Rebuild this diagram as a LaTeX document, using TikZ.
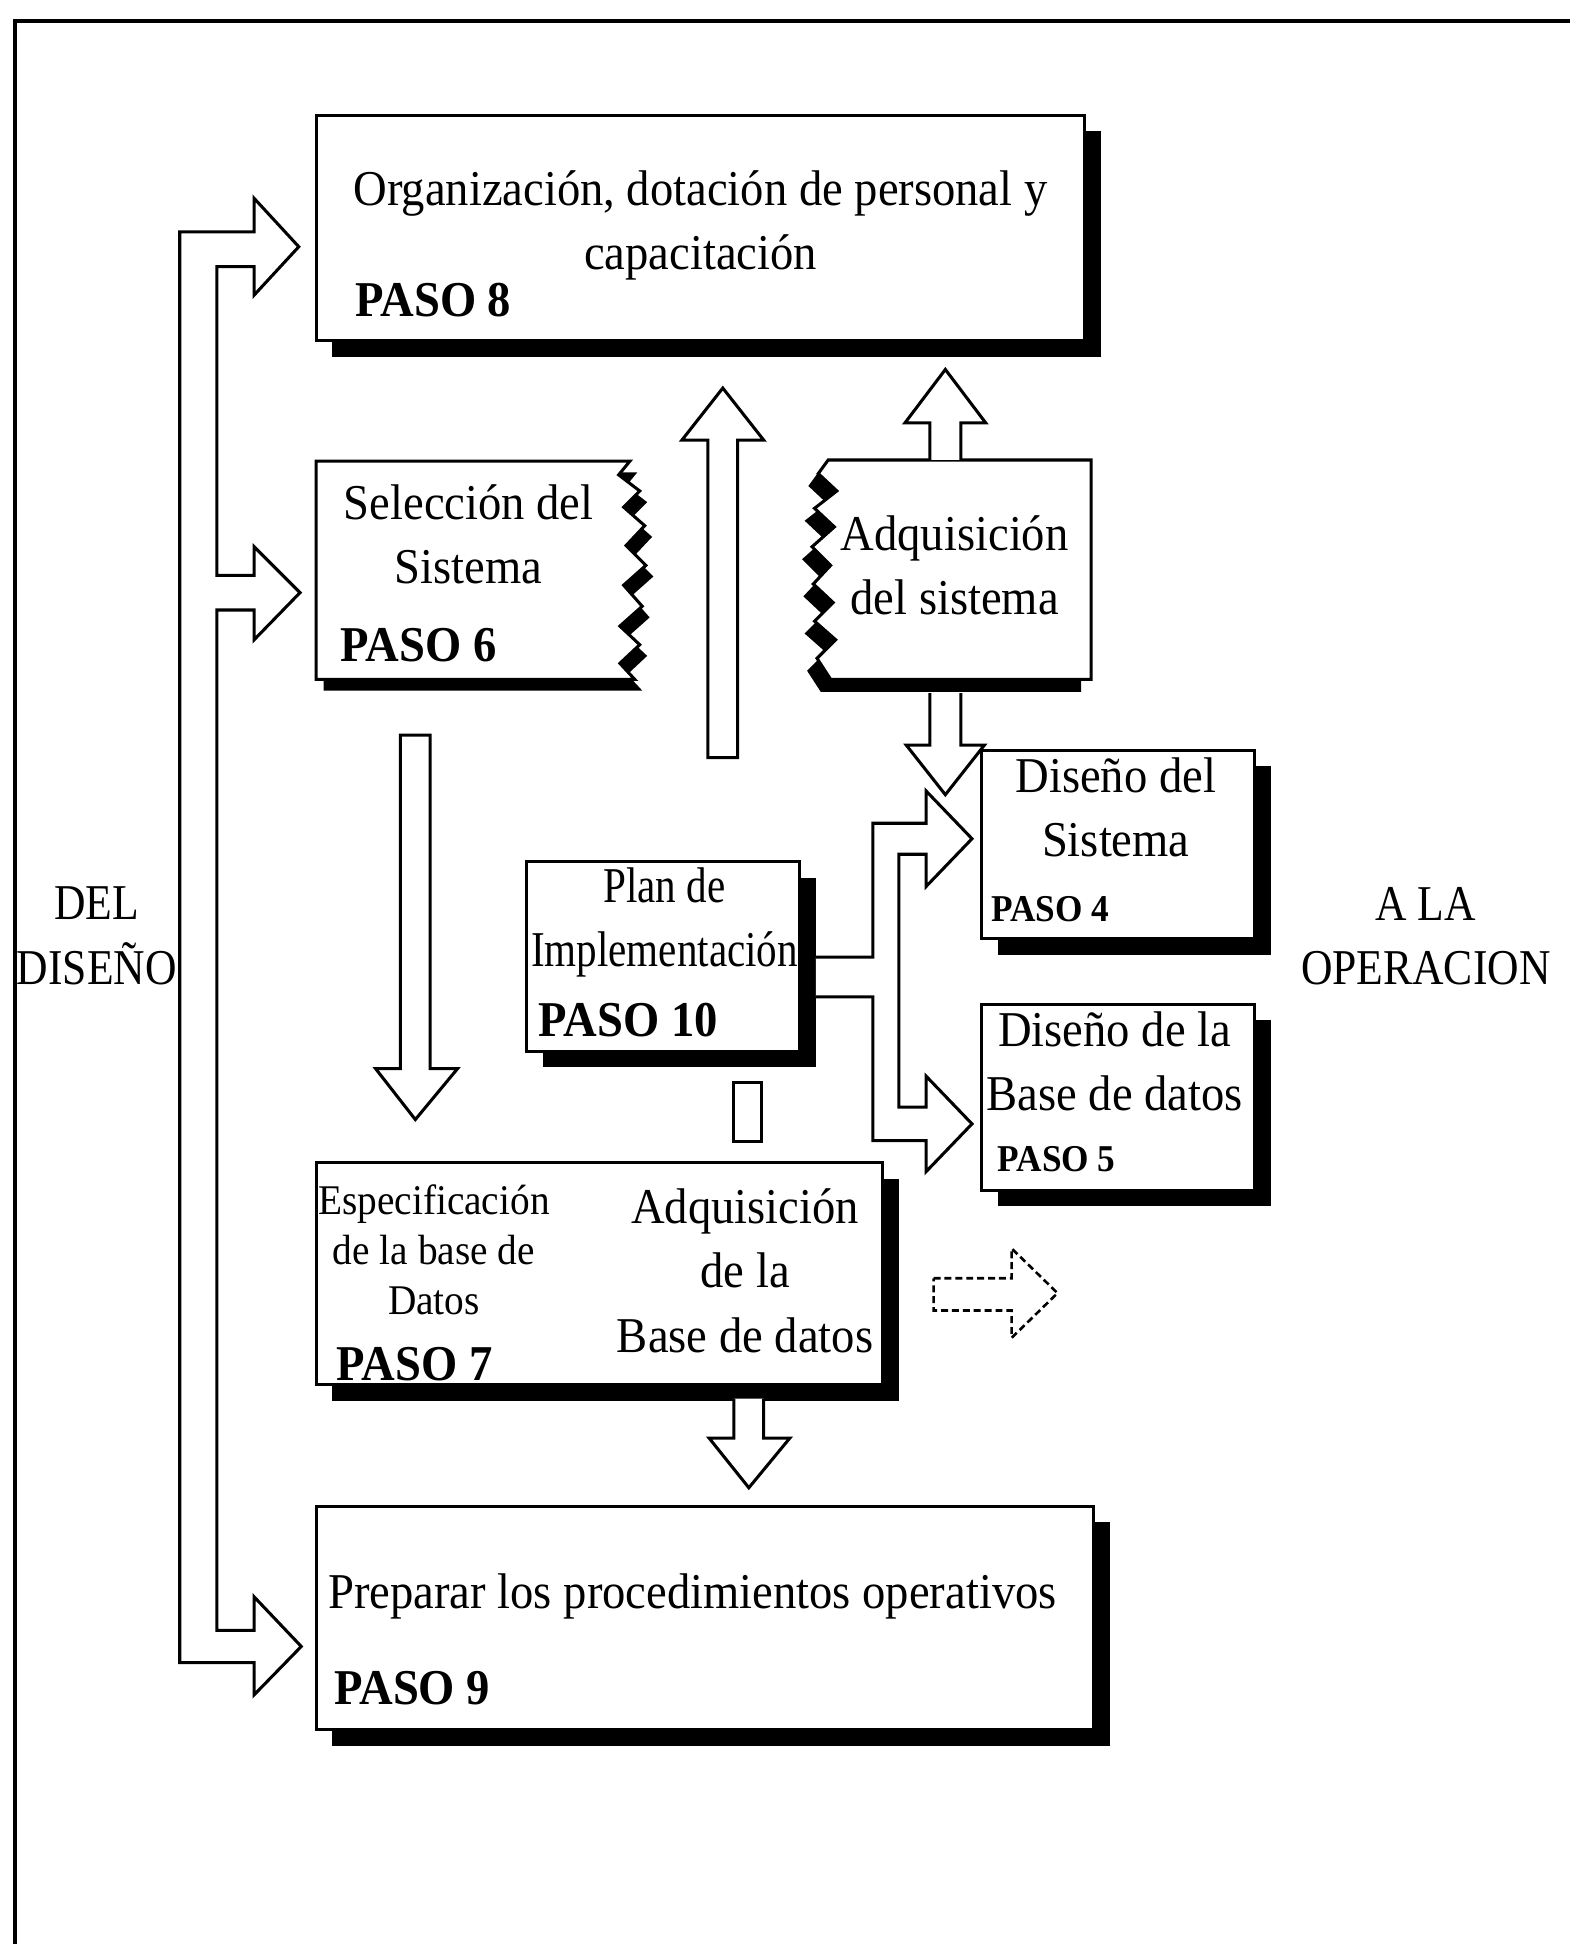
\documentclass[tikz,border=0pt]{standalone}
\usepackage{fontspec}
\setmainfont{Liberation Serif}[FakeStretch=0.93]
\newfontfamily\angosta{Liberation Serif}[FakeStretch=0.82]
\newfontfamily\medio{Liberation Serif}[FakeStretch=0.87]
\usetikzlibrary{shadows}

\tikzset{
  stepbox/.style={draw, fill=white, line width=0.7pt, inner sep=0pt,
    drop shadow={shadow xshift=1.3mm, shadow yshift=-1.3mm, opacity=1, fill=black}},
  blockarrow/.style={draw, fill=white, line width=0.7pt, line join=miter},
  txt/.style={font=\fontsize{11.5}{14.8}\selectfont, align=center, inner sep=0pt},
  txtchico/.style={font=\fontsize{9.7}{11.4}\selectfont, align=center, inner sep=0pt},
  paso/.style={font=\fontsize{11.5}{14}\selectfont\bfseries, anchor=west, inner sep=0pt},
  pasochico/.style={font=\fontsize{8.7}{10}\selectfont\bfseries, anchor=west, inner sep=0pt},
}

\begin{document}
\begin{tikzpicture}[x=0.1mm,y=-0.1mm]
\useasboundingbox (0,0) rectangle (1266,1568);

%% marco
\draw[line width=1pt] (12,1568) -- (12,17) -- (1266,17);

%% cajas con sombra
\node[stepbox, minimum width=62mm, minimum height=18.2mm] (b8) at (565,184) {};
\node[stepbox, minimum width=22mm, minimum height=15.2mm] (b4) at (902,681) {};
\node[stepbox, minimum width=22mm, minimum height=15mm] (b5) at (902,885) {};
\node[stepbox, minimum width=22mm, minimum height=15.3mm] (b10) at (535,771.5) {};
\node[stepbox, minimum width=45.7mm, minimum height=17.9mm] (b7) at (483.5,1027.5) {};
\node[stepbox, minimum width=62.7mm, minimum height=18mm] (b9) at (568.5,1305) {};

%% PASO 6, borde roto a la derecha
\begin{scope}[shift={(6,9)}]
\fill (255,372) -- (508,372) -- (499,383) -- (516,396) -- (503,409) -- (520,424)
  -- (505,440) -- (521,456) -- (503,472) -- (518,489) -- (500,505) -- (516,520)
  -- (500,535) -- (512,548) -- (255,548) -- cycle;
\end{scope}
\draw[fill=white, line width=0.7pt] (255,372) -- (508,372) -- (499,383) -- (516,396)
  -- (503,409) -- (520,424) -- (505,440) -- (521,456) -- (503,472) -- (518,489)
  -- (500,505) -- (516,520) -- (500,535) -- (512,548) -- (255,548) -- cycle;

%% adquisicion del sistema, borde roto a la izquierda
\begin{scope}[shift={(-8,10)}]
\fill (880,371) -- (668,371) -- (660,382) -- (675,396) -- (657,410) -- (673,425)
  -- (655,441) -- (670,456) -- (656,471) -- (672,486) -- (657,501) -- (674,516)
  -- (659,531) -- (670,548) -- (880,548) -- cycle;
\end{scope}
\draw[fill=white, line width=0.7pt] (880,371) -- (668,371) -- (660,382) -- (675,396)
  -- (657,410) -- (673,425) -- (655,441) -- (670,456) -- (656,471) -- (672,486)
  -- (657,501) -- (674,516) -- (659,531) -- (670,548) -- (880,548) -- cycle;

%% flechas de la izquierda (del diseno)
\draw[blockarrow] (145,187) -- (205,187) -- (205,160) -- (241,199) -- (205,238)
  -- (205,215) -- (175,215) -- (175,464) -- (205,464) -- (205,441) -- (242,478)
  -- (205,516) -- (205,492) -- (175,492) -- (175,1315) -- (205,1315) -- (205,1288)
  -- (243,1328) -- (205,1367) -- (205,1341) -- (145,1341) -- cycle;

%% flechas hacia PASO 4 y PASO 5
\draw[blockarrow] (658,772) -- (704,772) -- (704,664) -- (747,664) -- (747,638)
  -- (784,676.5) -- (747,715) -- (747,689) -- (725,689) -- (725,893) -- (747,893)
  -- (747,868) -- (784,906.5) -- (747,945) -- (747,920) -- (704,920) -- (704,804)
  -- (658,804);

%% flechas rectas
\draw[blockarrow] (571,611) -- (571,355) -- (550,355) -- (583,313) -- (616,355)
  -- (595,355) -- (595,611) -- cycle;
\draw[blockarrow] (750,371) -- (750,341) -- (730,341) -- (762.5,298) -- (795,341)
  -- (775,341) -- (775,371);
\draw[blockarrow] (750,559) -- (750,601) -- (731,601) -- (762.5,641) -- (794,601)
  -- (775,601) -- (775,559);
\draw[blockarrow] (323,593) -- (347,593) -- (347,862) -- (369,862) -- (335,903)
  -- (303,862) -- (323,862) -- cycle;
\draw[blockarrow] (592,1128) -- (592,1160) -- (572,1160) -- (604,1200) -- (637,1160)
  -- (616,1160) -- (616,1128);
\draw[line width=0.7pt] (592,873) rectangle (614,921);
\draw[dash pattern=on 1.6pt off 0.9pt, line width=0.6pt] (753,1031) -- (816,1031)
  -- (816,1007) -- (853,1043) -- (816,1079) -- (816,1057) -- (753,1057) -- cycle;

%% textos
\node[txt] (t8) at (565,182) {Organización, dotación de personal y\\capacitación};
\node[paso] (p8) at (286,242) {PASO 8};
\node[txt] (t6) at (378,431) {Selección del\\Sistema};
\node[paso] (p6) at (274,520) {PASO 6};
\node[txt] (ta) at (770,456) {Adquisición\\del sistema};
\node[txt] (t4) at (900,651) {Diseño del\\Sistema};
\node[pasochico] (p4) at (799,733) {PASO 4};
\node[txt] (t5) at (899,856) {Diseño de la\\Base de datos};
\node[pasochico] (p5) at (804,935) {PASO 5};
\node[txt, font=\fontsize{11.5}{14.8}\angosta] (t10) at (536,744) {Plan de\\Implementación};
\node[paso] (p10) at (434,823) {PASO 10};
\node[txtchico] (t7) at (350,1008) {Especificación\\de la base de\\Datos};
\node[paso] (p7) at (271,1100) {PASO 7};
\node[txt] (tb) at (601,1025) {Adquisición\\de la\\Base de datos};
\node[txt, anchor=west] (t9) at (264,1288) {Preparar los procedimientos operativos};
\node[paso] (p9) at (269,1362) {PASO 9};
\node[txt, font=\fontsize{11.5}{14.8}\medio] (del) at (78,755) {DEL\\DISEÑO};
\node[txt, font=\fontsize{11.5}{14.8}\medio] (ope) at (1150,755) {A LA\\OPERACION};

\end{tikzpicture}
\end{document}
